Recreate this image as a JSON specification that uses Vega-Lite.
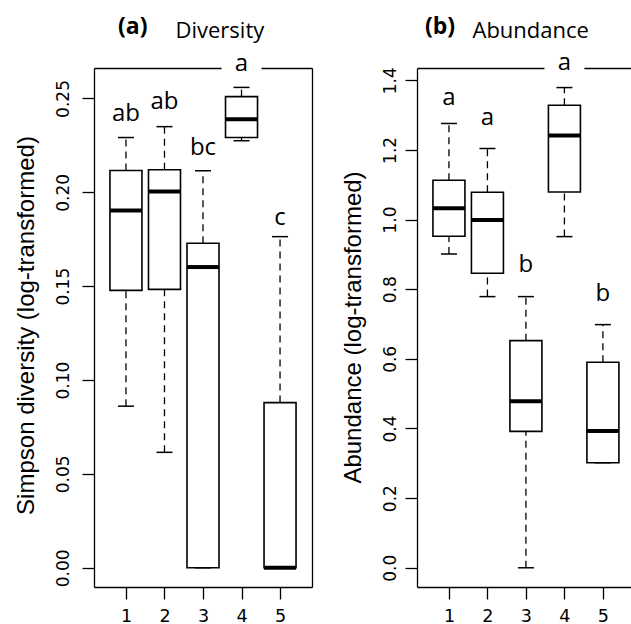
{
  "$schema": "https://vega.github.io/schema/vega-lite/v6.json",
  "background": "white",
  "padding": {"left": 13, "top": 15, "right": 0, "bottom": 0},
  "config": {"view": {"stroke": null}, "axis": {"grid": false}},
  "spacing": 105,
  "bounds": "flush",
  "datasets": {
    "boxA": [
      {"g": 1, "lo": 0.0861, "q1": 0.1478, "med": 0.1903, "q3": 0.2116, "hi": 0.2292},
      {"g": 2, "lo": 0.0615, "q1": 0.1483, "med": 0.2004, "q3": 0.2120, "hi": 0.2350},
      {"g": 3, "lo": 0.0, "q1": 0.0, "med": 0.1602, "q3": 0.1729, "hi": 0.2115},
      {"g": 4, "lo": 0.2275, "q1": 0.2292, "med": 0.2389, "q3": 0.2510, "hi": 0.2559},
      {"g": 5, "lo": 0.0, "q1": 0.0, "med": 0.0, "q3": 0.0880, "hi": 0.1764}
    ],
    "labA": [
      {"g": 1, "lab": "ab", "y": 0.2382},
      {"g": 2, "lab": "ab", "y": 0.2444},
      {"g": 3, "lab": "bc", "y": 0.2200},
      {"g": 4, "lab": "a", "y": 0.2648},
      {"g": 5, "lab": "c", "y": 0.1827}
    ],
    "boxB": [
      {"g": 1, "lo": 0.9011, "q1": 0.952, "med": 1.0325, "q3": 1.1129, "hi": 1.2759},
      {"g": 2, "lo": 0.7787, "q1": 0.8457, "med": 0.9989, "q3": 1.0784, "hi": 1.204},
      {"g": 3, "lo": 0.0, "q1": 0.3917, "med": 0.4779, "q3": 0.6523, "hi": 0.7787},
      {"g": 4, "lo": 0.951, "q1": 1.0793, "med": 1.2414, "q3": 1.3284, "hi": 1.379},
      {"g": 5, "lo": 0.3017, "q1": 0.3017, "med": 0.3925, "q3": 0.59, "hi": 0.6983}
    ],
    "labB": [
      {"g": 1, "lab": "a", "y": 1.3284},
      {"g": 2, "lab": "a", "y": 1.2701},
      {"g": 3, "lab": "b", "y": 0.8494},
      {"g": 4, "lab": "a", "y": 1.4282},
      {"g": 5, "lab": "b", "y": 0.7652}
    ]
  },
  "hconcat": [
    {
      "width": 218,
      "height": 519,
      "title": {"text": "(a)", "anchor": "start", "frame": "group", "dx": 24, "dy": 37, "offset": 0, "baseline": "alphabetic", "font": "Open Sans", "fontSize": 23, "fontWeight": "bold", "color": "black"},
      "data": {"name": "boxA"},
      "encoding": {
        "x": {"field": "g", "type": "quantitative", "scale": {"domain": [0.3, 5.7], "nice": false, "zero": false}, "axis": null}
      },
      "layer": [
        {
          "mark": {"type": "rule", "strokeDash": [7, 5], "strokeWidth": 1.3, "color": "black"},
          "encoding": {
            "y": {"field": "q3", "type": "quantitative", "scale": {"domain": [-0.01024, 0.26624], "nice": false, "zero": false}, "axis": null},
            "y2": {"field": "hi"}
          }
        },
        {
          "mark": {"type": "rule", "strokeDash": [7, 5], "strokeWidth": 1.3, "color": "black"},
          "encoding": {
            "y": {"field": "lo", "type": "quantitative", "scale": {"domain": [-0.01024, 0.26624], "nice": false, "zero": false}, "axis": null},
            "y2": {"field": "q1"}
          }
        },
        {
          "mark": {"type": "tick", "orient": "horizontal", "size": 16, "thickness": 1.5, "color": "black", "opacity": 1},
          "encoding": {
            "x": {"field": "g", "type": "quantitative", "scale": {"domain": [0.3, 5.7], "nice": false, "zero": false},
              "axis": {"orient": "bottom", "values": [1, 2, 3, 4, 5], "format": "d", "tickSize": 12, "tickWidth": 1.3, "tickColor": "black", "domainColor": "black", "domainWidth": 1.3, "labelFont": "DejaVu Sans", "labelFontSize": 17.5, "labelColor": "black", "labelBaseline": "alphabetic", "labelPadding": 22, "labelFlush": false, "title": null, "grid": false}},
            "y": {"field": "hi", "type": "quantitative", "scale": {"domain": [-0.01024, 0.26624], "nice": false, "zero": false},
              "axis": {"orient": "left", "values": [0, 0.05, 0.1, 0.15, 0.2, 0.25], "format": ".2f", "tickSize": 12, "tickWidth": 1.3, "tickColor": "black", "domainColor": "black", "domainWidth": 1.3, "labelFont": "DejaVu Sans", "labelFontSize": 17, "labelColor": "black", "labelAngle": 270, "labelAlign": "center", "labelBaseline": "alphabetic", "labelPadding": 13.5, "labelFlush": false, "labelOverlap": false, "title": "Simpson diversity (log-transformed)", "titleFont": "Liberation Sans", "titleFontSize": 24, "titleFontWeight": "normal", "titleColor": "black", "titleAngle": 270, "titleX": -61, "titleY": 257, "titleAlign": "center", "titleBaseline": "alphabetic", "grid": false}}
          }
        },
        {
          "mark": {"type": "tick", "orient": "horizontal", "size": 16, "thickness": 1.5, "color": "black", "opacity": 1},
          "encoding": {
            "y": {"field": "lo", "type": "quantitative", "scale": {"domain": [-0.01024, 0.26624], "nice": false, "zero": false}, "axis": null}
          }
        },
        {
          "mark": {"type": "bar", "size": 32, "fill": "white", "stroke": "black", "strokeWidth": 1.6},
          "encoding": {
            "x": {"field": "g", "type": "quantitative", "scale": {"domain": [0.3, 5.7], "nice": false, "zero": false},
              "axis": {"orient": "top", "ticks": false, "labels": false, "domainColor": "black", "domainWidth": 1.3, "grid": false, "title": "Diversity", "titleFont": "Open Sans", "titleFontSize": 22, "titleFontWeight": "normal", "titleColor": "black", "titleX": 81, "titleY": -30.3, "titleAlign": "left", "titleBaseline": "alphabetic", "titleAngle": 0}},
            "y": {"field": "q1", "type": "quantitative", "scale": {"domain": [-0.01024, 0.26624], "nice": false, "zero": false},
              "axis": {"orient": "right", "ticks": false, "labels": false, "domainColor": "black", "domainWidth": 1.3, "grid": false, "title": null}},
            "y2": {"field": "q3"}
          }
        },
        {
          "mark": {"type": "tick", "orient": "horizontal", "size": 32, "thickness": 4, "color": "black", "opacity": 1},
          "encoding": {
            "y": {"field": "med", "type": "quantitative", "scale": {"domain": [-0.01024, 0.26624], "nice": false, "zero": false}, "axis": null}
          }
        },
        {
          "data": {"name": "labA"},
          "transform": [{"filter": "datum.g == 4"}],
          "mark": {"type": "point", "shape": "M-1,-0.5L1,-0.5L1,0.5L-1,0.5Z", "size": 1600, "filled": true, "color": "white", "opacity": 1, "strokeWidth": 0},
          "encoding": {
            "y": {"field": "y", "type": "quantitative", "scale": {"domain": [-0.01024, 0.26624], "nice": false, "zero": false}, "axis": null}
          }
        },
        {
          "data": {"name": "labA"},
          "mark": {"type": "text", "font": "Open Sans", "fontSize": 24, "baseline": "alphabetic", "align": "center", "color": "black"},
          "encoding": {
            "y": {"field": "y", "type": "quantitative", "scale": {"domain": [-0.01024, 0.26624], "nice": false, "zero": false}, "axis": null},
            "text": {"field": "lab"}
          }
        }
      ],
      "resolve": {"axis": {"x": "independent", "y": "independent"}}
    },
    {
      "width": 214,
      "height": 519,
      "title": {"text": "(b)", "anchor": "start", "frame": "group", "dx": 8, "dy": 37, "offset": 0, "baseline": "alphabetic", "font": "Open Sans", "fontSize": 23, "fontWeight": "bold", "color": "black"},
      "data": {"name": "boxB"},
      "encoding": {
        "x": {"field": "g", "type": "quantitative", "scale": {"domain": [0.3, 5.6], "nice": false, "zero": false}, "axis": null}
      },
      "layer": [
        {
          "mark": {"type": "rule", "strokeDash": [7, 5], "strokeWidth": 1.3, "color": "black"},
          "encoding": {
            "y": {"field": "q3", "type": "quantitative", "scale": {"domain": [-0.0552, 1.4352], "nice": false, "zero": false}, "axis": null},
            "y2": {"field": "hi"}
          }
        },
        {
          "mark": {"type": "rule", "strokeDash": [7, 5], "strokeWidth": 1.3, "color": "black"},
          "encoding": {
            "y": {"field": "lo", "type": "quantitative", "scale": {"domain": [-0.0552, 1.4352], "nice": false, "zero": false}, "axis": null},
            "y2": {"field": "q1"}
          }
        },
        {
          "mark": {"type": "tick", "orient": "horizontal", "size": 16, "thickness": 1.5, "color": "black", "opacity": 1},
          "encoding": {
            "x": {"field": "g", "type": "quantitative", "scale": {"domain": [0.3, 5.6], "nice": false, "zero": false},
              "axis": {"orient": "bottom", "values": [1, 2, 3, 4, 5], "format": "d", "tickSize": 12, "tickWidth": 1.3, "tickColor": "black", "domainColor": "black", "domainWidth": 1.3, "labelFont": "DejaVu Sans", "labelFontSize": 17.5, "labelColor": "black", "labelBaseline": "alphabetic", "labelPadding": 22, "labelFlush": false, "title": null, "grid": false}},
            "y": {"field": "hi", "type": "quantitative", "scale": {"domain": [-0.0552, 1.4352], "nice": false, "zero": false},
              "axis": {"orient": "left", "values": [0, 0.2, 0.4, 0.6, 0.8, 1.0, 1.2, 1.4], "format": ".1f", "tickSize": 12, "tickWidth": 1.3, "tickColor": "black", "domainColor": "black", "domainWidth": 1.3, "labelFont": "DejaVu Sans", "labelFontSize": 17, "labelColor": "black", "labelAngle": 270, "labelAlign": "center", "labelBaseline": "alphabetic", "labelPadding": 9.5, "labelFlush": false, "labelOverlap": false, "title": "Abundance (log-transformed)", "titleFont": "Liberation Sans", "titleFontSize": 24, "titleFontWeight": "normal", "titleColor": "black", "titleAngle": 270, "titleX": -57, "titleY": 259, "titleAlign": "center", "titleBaseline": "alphabetic", "grid": false}}
          }
        },
        {
          "mark": {"type": "tick", "orient": "horizontal", "size": 16, "thickness": 1.5, "color": "black", "opacity": 1},
          "encoding": {
            "y": {"field": "lo", "type": "quantitative", "scale": {"domain": [-0.0552, 1.4352], "nice": false, "zero": false}, "axis": null}
          }
        },
        {
          "mark": {"type": "bar", "size": 32, "fill": "white", "stroke": "black", "strokeWidth": 1.6},
          "encoding": {
            "x": {"field": "g", "type": "quantitative", "scale": {"domain": [0.3, 5.6], "nice": false, "zero": false},
              "axis": {"orient": "top", "ticks": false, "labels": false, "domainColor": "black", "domainWidth": 1.3, "grid": false, "title": "Abundance", "titleFont": "Open Sans", "titleFontSize": 22, "titleFontWeight": "normal", "titleColor": "black", "titleX": 55, "titleY": -30.3, "titleAlign": "left", "titleBaseline": "alphabetic", "titleAngle": 0}},
            "y": {"field": "q1", "type": "quantitative", "scale": {"domain": [-0.0552, 1.4352], "nice": false, "zero": false}, "axis": null},
            "y2": {"field": "q3"}
          }
        },
        {
          "mark": {"type": "tick", "orient": "horizontal", "size": 32, "thickness": 4, "color": "black", "opacity": 1},
          "encoding": {
            "y": {"field": "med", "type": "quantitative", "scale": {"domain": [-0.0552, 1.4352], "nice": false, "zero": false}, "axis": null}
          }
        },
        {
          "data": {"name": "labB"},
          "transform": [{"filter": "datum.g == 4"}],
          "mark": {"type": "point", "shape": "M-1,-0.5L1,-0.5L1,0.5L-1,0.5Z", "size": 1600, "filled": true, "color": "white", "opacity": 1, "strokeWidth": 0},
          "encoding": {
            "y": {"field": "y", "type": "quantitative", "scale": {"domain": [-0.0552, 1.4352], "nice": false, "zero": false}, "axis": null}
          }
        },
        {
          "data": {"name": "labB"},
          "mark": {"type": "text", "font": "Open Sans", "fontSize": 24, "baseline": "alphabetic", "align": "center", "color": "black"},
          "encoding": {
            "y": {"field": "y", "type": "quantitative", "scale": {"domain": [-0.0552, 1.4352], "nice": false, "zero": false}, "axis": null},
            "text": {"field": "lab"}
          }
        }
      ],
      "resolve": {"axis": {"x": "independent", "y": "independent"}}
    }
  ]
}
